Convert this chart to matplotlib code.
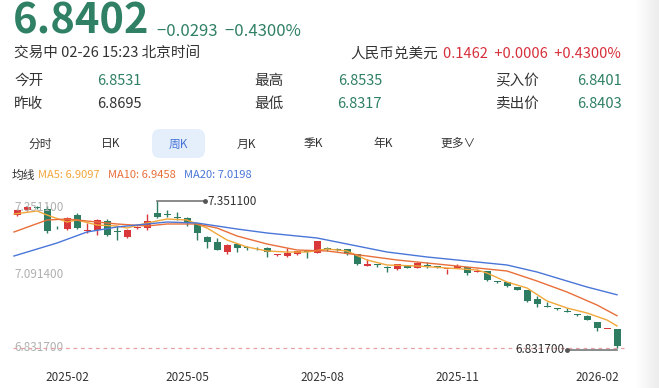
import numpy as np
import matplotlib.pyplot as plt
from matplotlib.patches import FancyBboxPatch
from matplotlib.colors import LinearSegmentedColormap

plt.rcParams['font.family'] = ['Noto Sans CJK SC', 'DejaVu Sans']

# weekly candles, 2025-01 .. 2026-02
opens = [7.3017, 7.3193, 7.3299, 7.3228, 7.2557, 7.2522, 7.3017, 7.2451, 7.2487, 7.2805,
         7.2451, 7.2239, 7.2557, 7.2557, 7.3087, 7.3052, 7.2928, 7.2911, 7.2699, 7.2239,
         7.2063, 7.1709, 7.1992, 7.1860, 7.1855, 7.1851, 7.1596, 7.1568, 7.1639, 7.1720,
         7.1674, 7.1830, 7.1800, 7.1815, 7.1639, 7.1215, 7.1260, 7.1179, 7.1109, 7.1215,
         7.1144, 7.1225, 7.1190, 7.1100, 7.1144, 7.1179, 7.1020, 7.1038, 7.0660, 7.0649,
         7.0472, 7.0366, 7.0048, 6.9780, 6.9705, 6.9600, 6.9500, 6.9448, 6.9236, 6.8980,
         6.8988]
highs = [7.3228, 7.3317, 7.3335, 7.3335, 7.2628, 7.2946, 7.3087, 7.2734, 7.2875, 7.2875,
         7.2628, 7.2522, 7.2628, 7.3052, 7.3511, 7.3193, 7.3122, 7.2946, 7.2734, 7.2275,
         7.2204, 7.1992, 7.2027, 7.1921, 7.1890, 7.1880, 7.1640, 7.1850, 7.1760, 7.1745,
         7.2110, 7.1880, 7.1850, 7.1830, 7.1650, 7.1462, 7.1285, 7.1200, 7.1300, 7.1230,
         7.1340, 7.1356, 7.1210, 7.1120, 7.1285, 7.1190, 7.1100, 7.1050, 7.0700, 7.0660,
         7.0480, 7.0380, 7.0154, 6.9942, 6.9730, 6.9730, 6.9520, 6.9480, 6.9250, 6.9000,
         6.8995]
lows = [7.2981, 7.3158, 7.3228, 7.2381, 7.2522, 7.2487, 7.2522, 7.2381, 7.2310, 7.2275,
        7.2133, 7.2204, 7.2522, 7.2487, 7.2911, 7.2946, 7.2840, 7.2628, 7.2133, 7.1851,
        7.1780, 7.1639, 7.1709, 7.1780, 7.1790, 7.1533, 7.1580, 7.1550, 7.1620, 7.1497,
        7.1660, 7.1760, 7.1745, 7.1600, 7.1260, 7.1200, 7.1180, 7.1003, 7.1080, 7.1130,
        7.1130, 7.1144, 7.1150, 7.0932, 7.1130, 7.0900, 7.1010, 7.0700, 7.0610, 7.0490,
        7.0350, 6.9960, 6.9766, 6.9760, 6.9670, 6.9580, 6.9460, 6.9290, 6.8918, 6.8975,
        6.8317]
closes = [7.3193, 7.3299, 7.3264, 7.2451, 7.2540, 7.2911, 7.2557, 7.2487, 7.2840, 7.2310,
          7.2400, 7.2487, 7.2593, 7.2805, 7.2946, 7.3030, 7.2911, 7.2734, 7.2381, 7.2063,
          7.1780, 7.1957, 7.1851, 7.1845, 7.1835, 7.1709, 7.1620, 7.1674, 7.1745, 7.1700,
          7.2098, 7.1810, 7.1780, 7.1639, 7.1285, 7.1285, 7.1240, 7.1144, 7.1285, 7.1144,
          7.1320, 7.1205, 7.1170, 7.1115, 7.1215, 7.0967, 7.1045, 7.0720, 7.0645, 7.0508,
          7.0366, 6.9978, 6.9872, 6.9766, 6.9690, 6.9589, 6.9483, 6.9306, 6.9024, 6.8995,
          6.8402]

# moving averages at some weeks
ma5_idx = [0, 2, 3, 5, 6, 8, 10, 11, 13, 15, 17, 19, 21, 23, 25, 27, 29, 31, 33, 35,
           37, 40, 43, 46, 47, 49, 51, 53, 55, 57, 59, 60]
ma5 = [7.3052, 7.3158, 7.3017, 7.2769, 7.2840, 7.2663, 7.2628, 7.2557, 7.2734, 7.2875,
       7.2840, 7.2557, 7.2133, 7.1886, 7.1745, 7.1709, 7.1709, 7.1815, 7.1745, 7.1427,
       7.1250, 7.1215, 7.1144, 7.1073, 7.0967, 7.0649, 7.0437, 6.9978, 6.9730, 6.9554,
       6.9306, 6.9097]
ma10_idx = [0, 3, 5, 8, 10, 13, 15, 18, 20, 22, 25, 28, 31, 35, 38, 42, 46, 49, 52, 55, 58, 60]
ma10 = [7.2416, 7.2840, 7.2875, 7.2769, 7.2699, 7.2628, 7.2699, 7.2699, 7.2557, 7.2275,
        7.1992, 7.1780, 7.1745, 7.1568, 7.1427, 7.1285, 7.1144, 7.1038, 7.0684, 7.0296,
        6.9836, 6.9458]
ma20_idx = [0, 4, 7, 10, 15, 18, 22, 25, 30, 33, 37, 41, 46, 49, 52, 54, 57, 60]
ma20 = [7.1568, 7.2027, 7.2416, 7.2593, 7.2769, 7.2734, 7.2522, 7.2381, 7.2204, 7.1992,
        7.1709, 7.1533, 7.1356, 7.1250, 7.1003, 7.0790, 7.0472, 7.0198]

tick_pos = [5, 17, 30.5, 44, 58]
tick_labels = ['2025-02', '2025-05', '2025-08', '2025-11', '2026-02']

tabs = ['分时', '日K', '周K', '月K', '季K', '年K', '更多∨']

GREEN = '#2e7d62'
RED = '#d8383a'
C5, C10, C20 = '#f2a73a', '#e86f3a', '#4a76d8'

fig = plt.figure(figsize=(6.59, 3.88), dpi=100)
fig.patch.set_facecolor('white')

# overlay in pixel coordinates for the header
ov = fig.add_axes([0, 0, 1, 1])
grad = np.linspace(0, 1, 50).reshape(1, -1)
ov.imshow(grad, extent=[636, 659, 388, 0], aspect='auto', zorder=0,
          cmap=LinearSegmentedColormap.from_list('g', ['#ffffff', '#ececec']))
ov.set_xlim(0, 659)
ov.set_ylim(388, 0)
ov.axis('off')

ov.text(13, 22, '6.8402', fontsize=30, fontweight='bold', color='#2f8064', va='center')
ov.text(157, 31, '−0.0293  −0.4300%', fontsize=12, color='#2f8064', va='center')
ov.text(14, 54, '交易中 02-26 15:23 北京时间', fontsize=10.5, color='#333333', va='center')
ov.text(438, 54, '人民币兑美元', fontsize=10.5, color='#333333', va='center', ha='right')
ov.text(621, 54, '0.1462  +0.0006  +0.4300%', fontsize=10.5, color='#d6303c', va='center', ha='right')

ov.text(14, 81, '今开', fontsize=10.5, color='#333333', va='center')
ov.text(142, 81, '6.8531', fontsize=10.5, color='#2f8064', va='center', ha='right')
ov.text(254, 81, '最高', fontsize=10.5, color='#333333', va='center')
ov.text(382, 81, '6.8535', fontsize=10.5, color='#2f8064', va='center', ha='right')
ov.text(495, 81, '买入价', fontsize=10.5, color='#333333', va='center')
ov.text(622, 81, '6.8401', fontsize=10.5, color='#2f8064', va='center', ha='right')

ov.text(14, 104, '昨收', fontsize=10.5, color='#333333', va='center')
ov.text(142, 104, '6.8695', fontsize=10.5, color='#333333', va='center', ha='right')
ov.text(254, 104, '最低', fontsize=10.5, color='#333333', va='center')
ov.text(382, 104, '6.8317', fontsize=10.5, color='#2f8064', va='center', ha='right')
ov.text(495, 104, '卖出价', fontsize=10.5, color='#333333', va='center')
ov.text(622, 104, '6.8403', fontsize=10.5, color='#2f8064', va='center', ha='right')

ov.add_patch(FancyBboxPatch((152, 129), 53, 29, boxstyle='round,pad=0,rounding_size=8',
                            fc='#e5effc', ec='none', zorder=1))
tab_x = [40, 111, 178, 246, 313, 383, 458]
for tx, s in zip(tab_x, tabs):
    ov.text(tx, 144, s, fontsize=8.5, color='#4a76d8' if s == '周K' else '#333333',
            va='center', ha='center', zorder=2)

ov.text(12, 175, '均线', fontsize=8.5, color='#333333', va='center')
ov.text(38, 175, 'MA5: 6.9097', fontsize=8, color=C5, va='center')
ov.text(108, 175, 'MA10: 6.9458', fontsize=8, color=C10, va='center')
ov.text(184, 175, 'MA20: 7.0198', fontsize=8, color=C20, va='center')

# candle chart
ax = fig.add_axes([7 / 659, 28 / 388, 620 / 659, 165 / 388])
ax.patch.set_alpha(0)
x = np.arange(len(closes))
o = np.array(opens)
c = np.array(closes)
up = c >= o
cols = np.where(up, RED, GREEN)
ax.vlines(x, lows, highs, colors=cols, lw=1, zorder=3)
body = np.maximum(np.abs(c - o), 0.003)
ax.bar(x, body, bottom=np.minimum(o, c), width=0.7, color=cols, zorder=4)

for idx, vals, col in [(ma5_idx, ma5, C5), (ma10_idx, ma10, C10), (ma20_idx, ma20, C20)]:
    xs = np.array(idx, dtype=float)
    xs[0] -= 0.3
    ax.plot(xs, vals, color=col, lw=1, zorder=5)

hi = max(highs)
lo = min(lows)
mid = (hi + lo) / 2
ax.set_xlim(-1, 61)
ax.set_ylim(lo - 12 / 283, lo + 153 / 283)
ax.axhline(lo, xmin=0.01, xmax=0.995, color='#e8a0a0', lw=0.9, ls=(0, (3, 3)), zorder=2)
ax.text(-0.3, hi, '%.6f' % hi, fontsize=8.5, color='#b0b0b0', va='top', zorder=6)
ax.text(-0.3, mid, '%.6f' % mid, fontsize=8.5, color='#b0b0b0', va='center', zorder=6)
ax.text(-0.3, lo, '%.6f' % lo, fontsize=8.5, color='#b0b0b0', va='center', zorder=1)

ihi = highs.index(hi)
ilo = lows.index(lo)
ax.plot([ihi, ihi + 4.8], [hi, hi], color='#777777', lw=1.2, zorder=6)
ax.plot([ihi + 4.8], [hi], 'o', ms=2.5, color='#555555', zorder=6)
ax.text(ihi + 5, hi, '%.6f' % hi, fontsize=8.5, color='#333333', va='center')
ax.plot([ilo, ilo - 5], [lo - 0.006, lo - 0.006], color='#777777', lw=1.2, zorder=6)
ax.plot([ilo - 5], [lo - 0.006], 'o', ms=2.5, color='#555555', zorder=6)
ax.text(ilo - 5.2, lo - 0.006, '%.6f' % lo, fontsize=8.5, color='#333333', va='center', ha='right')

ax.set_xticks(tick_pos)
ax.set_xticklabels(tick_labels, fontsize=8.5, color='#333333')
ax.tick_params(axis='x', length=0, pad=8)
ax.set_yticks([])
for s in ax.spines.values():
    s.set_visible(False)

fig.savefig('out.png', dpi=100)
